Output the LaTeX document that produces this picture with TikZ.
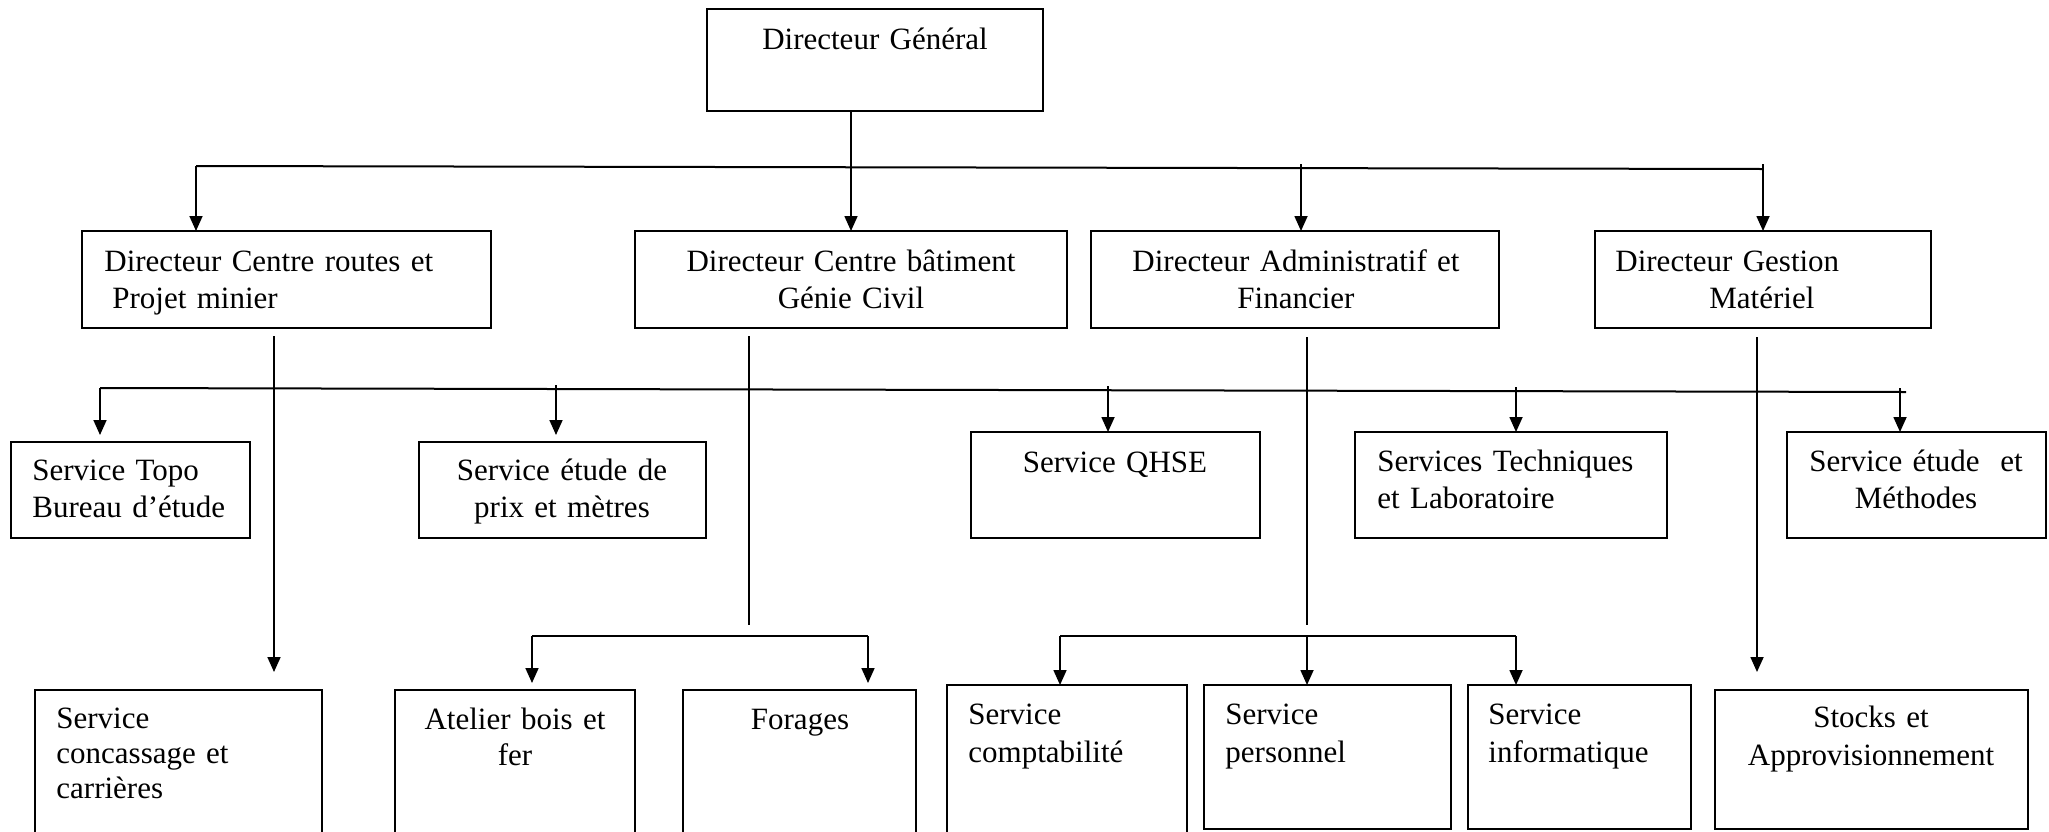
\documentclass[tikz,border=0pt]{standalone}
\usepackage{fontspec}
\setmainfont{Liberation Serif}
\usetikzlibrary{arrows.meta,calc}
\newcommand\orgfont[1]{\fontsize{15.5pt}{#1}\selectfont}
\newcommand\orgbox[5]{\node[box,minimum width={0.5pt*(#4-#2)},minimum height={0.5pt*(#5-#3)}] (#1) at (#2,#3) {};}
\begin{document}
\begin{tikzpicture}[x=0.5pt,y=-0.5pt,
  box/.style={draw,line width=1pt,inner sep=0pt,outer sep=0pt,anchor=north west},
  tl/.style={inner sep=0pt,anchor=base west,align=left,text width=300pt},
  tc/.style={inner sep=0pt,anchor=base,align=center,text width=300pt},
  bar/.style={line width=1pt},
  plain/.style={line width=0.6pt},
  arr/.style={line width=0.85pt,-{Triangle[length=7.5pt,width=6.5pt]}}]
\useasboundingbox (0,0) rectangle (2049,831);
\clip (0,0) rectangle (2049,831);
% boxes
\orgbox{dg}{707}{9}{1043}{111}
\orgbox{d1}{82}{231}{491}{328}
\orgbox{d2}{635}{231}{1067}{328}
\orgbox{d3}{1091}{231}{1499}{328}
\orgbox{d4}{1595}{231}{1931}{328}
\orgbox{s1}{11}{442}{250}{538}
\orgbox{s2}{419}{442}{706}{538}
\orgbox{s3}{971}{432}{1260}{538}
\orgbox{s4}{1355}{432}{1667}{538}
\orgbox{s5}{1787}{432}{2046}{538}
\orgbox{c1}{35}{690}{322}{900}
\orgbox{c2}{395}{690}{635}{900}
\orgbox{c3}{683}{690}{916}{900}
\orgbox{c4}{947}{685}{1187}{900}
\orgbox{c5}{1204}{685}{1451}{829}
\orgbox{c6}{1468}{685}{1691}{829}
\orgbox{c7}{1715}{690}{2028}{829}
% texts
\node[tc,font=\orgfont{18pt}] (tdg) at (875,49) {Directeur Général};
\node[tl,font=\orgfont{18.5pt}] (td1) at (104,271) {Directeur Centre routes et\\\hspace*{4pt}Projet minier};
\node[tc,font=\orgfont{18.5pt}] (td2) at (851,271) {Directeur Centre bâtiment\\Génie Civil};
\node[tc,font=\orgfont{18.5pt}] (td3) at (1296,271) {Directeur Administratif et\\Financier};
\node[tl,font=\orgfont{18.5pt}] (td4) at (1615,271) {Directeur Gestion\\\hspace*{47pt}Matériel};
\node[tl,font=\orgfont{18.5pt}] (ts1) at (32,480) {Service Topo\\Bureau d’étude};
\node[tc,font=\orgfont{18.5pt}] (ts2) at (562,480) {Service étude de\\prix et mètres};
\node[tc,font=\orgfont{18.5pt}] (ts3) at (1115,472) {Service QHSE};
\node[tl,font=\orgfont{18.5pt}] (ts4) at (1377,471) {Services Techniques\\et Laboratoire};
\node[tc,font=\orgfont{18.5pt}] (ts5) at (1916,471) {Service étude\ \ et\\Méthodes};
\node[tl,font=\orgfont{17.5pt}] (tc1) at (56,728) {Service\\concassage et\\carrières};
\node[tc,font=\orgfont{18pt}] (tc2) at (515,729) {Atelier bois et\\fer};
\node[tc,font=\orgfont{18pt}] (tc3) at (800,729) {Forages};
\node[tl,font=\orgfont{19pt}] (tc4) at (968,724) {Service\\comptabilité};
\node[tl,font=\orgfont{19pt}] (tc5) at (1225,724) {Service\\personnel};
\node[tl,font=\orgfont{19pt}] (tc6) at (1488,724) {Service\\informatique};
\node[tc,font=\orgfont{19pt}] (tc7) at (1871,727) {Stocks et\\Approvisionnement};
% level 1 -> level 2
\coordinate (b1a) at (196,166);
\coordinate (b1b) at (1763,169);
\coordinate (k3) at (1301,164);
\coordinate (k4) at (1763,164);
\draw[bar] (b1a) -- (b1b);
\draw[arr] (dg.south -| d2.north) -- (d2.north);
\draw[arr] (b1a) -- (b1a |- d1.north);
\draw[arr] (k3) -- (k3 |- d3.north);
\draw[arr] (k4) -- (k4 |- d4.north);
% level 2 -> level 3
\coordinate (b2a) at (100,388);
\coordinate (b2b) at (1906,392);
\coordinate (k21) at (556,385);
\coordinate (k22) at (1108,386);
\coordinate (k23) at (1516,387);
\coordinate (k24) at (1900,388);
\draw[bar] (b2a) -- (b2b);
\draw[arr] (b2a) -- ($(b2a |- s1.north)+(0,-7)$);
\draw[arr] (k21) -- ($(k21 |- s2.north)+(0,-7)$);
\draw[arr] (k22) -- (k22 |- s3.north);
\draw[arr] (k23) -- (k23 |- s4.north);
\draw[arr] (k24) -- (k24 |- s5.north);
% verticals from level 2
\coordinate (v1) at (274,336);
\coordinate (v2) at (749,336);
\coordinate (v2e) at (749,625);
\coordinate (v3) at (1307,337);
\coordinate (v3e) at (1307,625);
\coordinate (v4) at (1757,337);
\draw[arr] (v1) -- ($(v1 |- c1.north)+(0,-18)$);
\draw[plain] (v2) -- (v2e);
\draw[plain] (v3) -- (v3e);
\draw[arr] (v4) -- ($(v4 |- c7.north)+(0,-18)$);
% level 4 branches
\coordinate (g1a) at (532,636);
\coordinate (g1b) at (868,636);
\draw[bar] (g1a) -- (g1b);
\draw[arr] (g1a) -- ($(g1a |- c2.north)+(0,-7)$);
\draw[arr] (g1b) -- ($(g1b |- c3.north)+(0,-7)$);
\coordinate (g2a) at (1060,636);
\coordinate (g2m) at (1307,636);
\coordinate (g2b) at (1516,636);
\draw[bar] (g2a) -- (g2b);
\draw[arr] (g2a) -- (g2a |- c4.north);
\draw[arr] (g2m) -- (g2m |- c5.north);
\draw[arr] (g2b) -- (g2b |- c6.north);
\end{tikzpicture}
\end{document}
